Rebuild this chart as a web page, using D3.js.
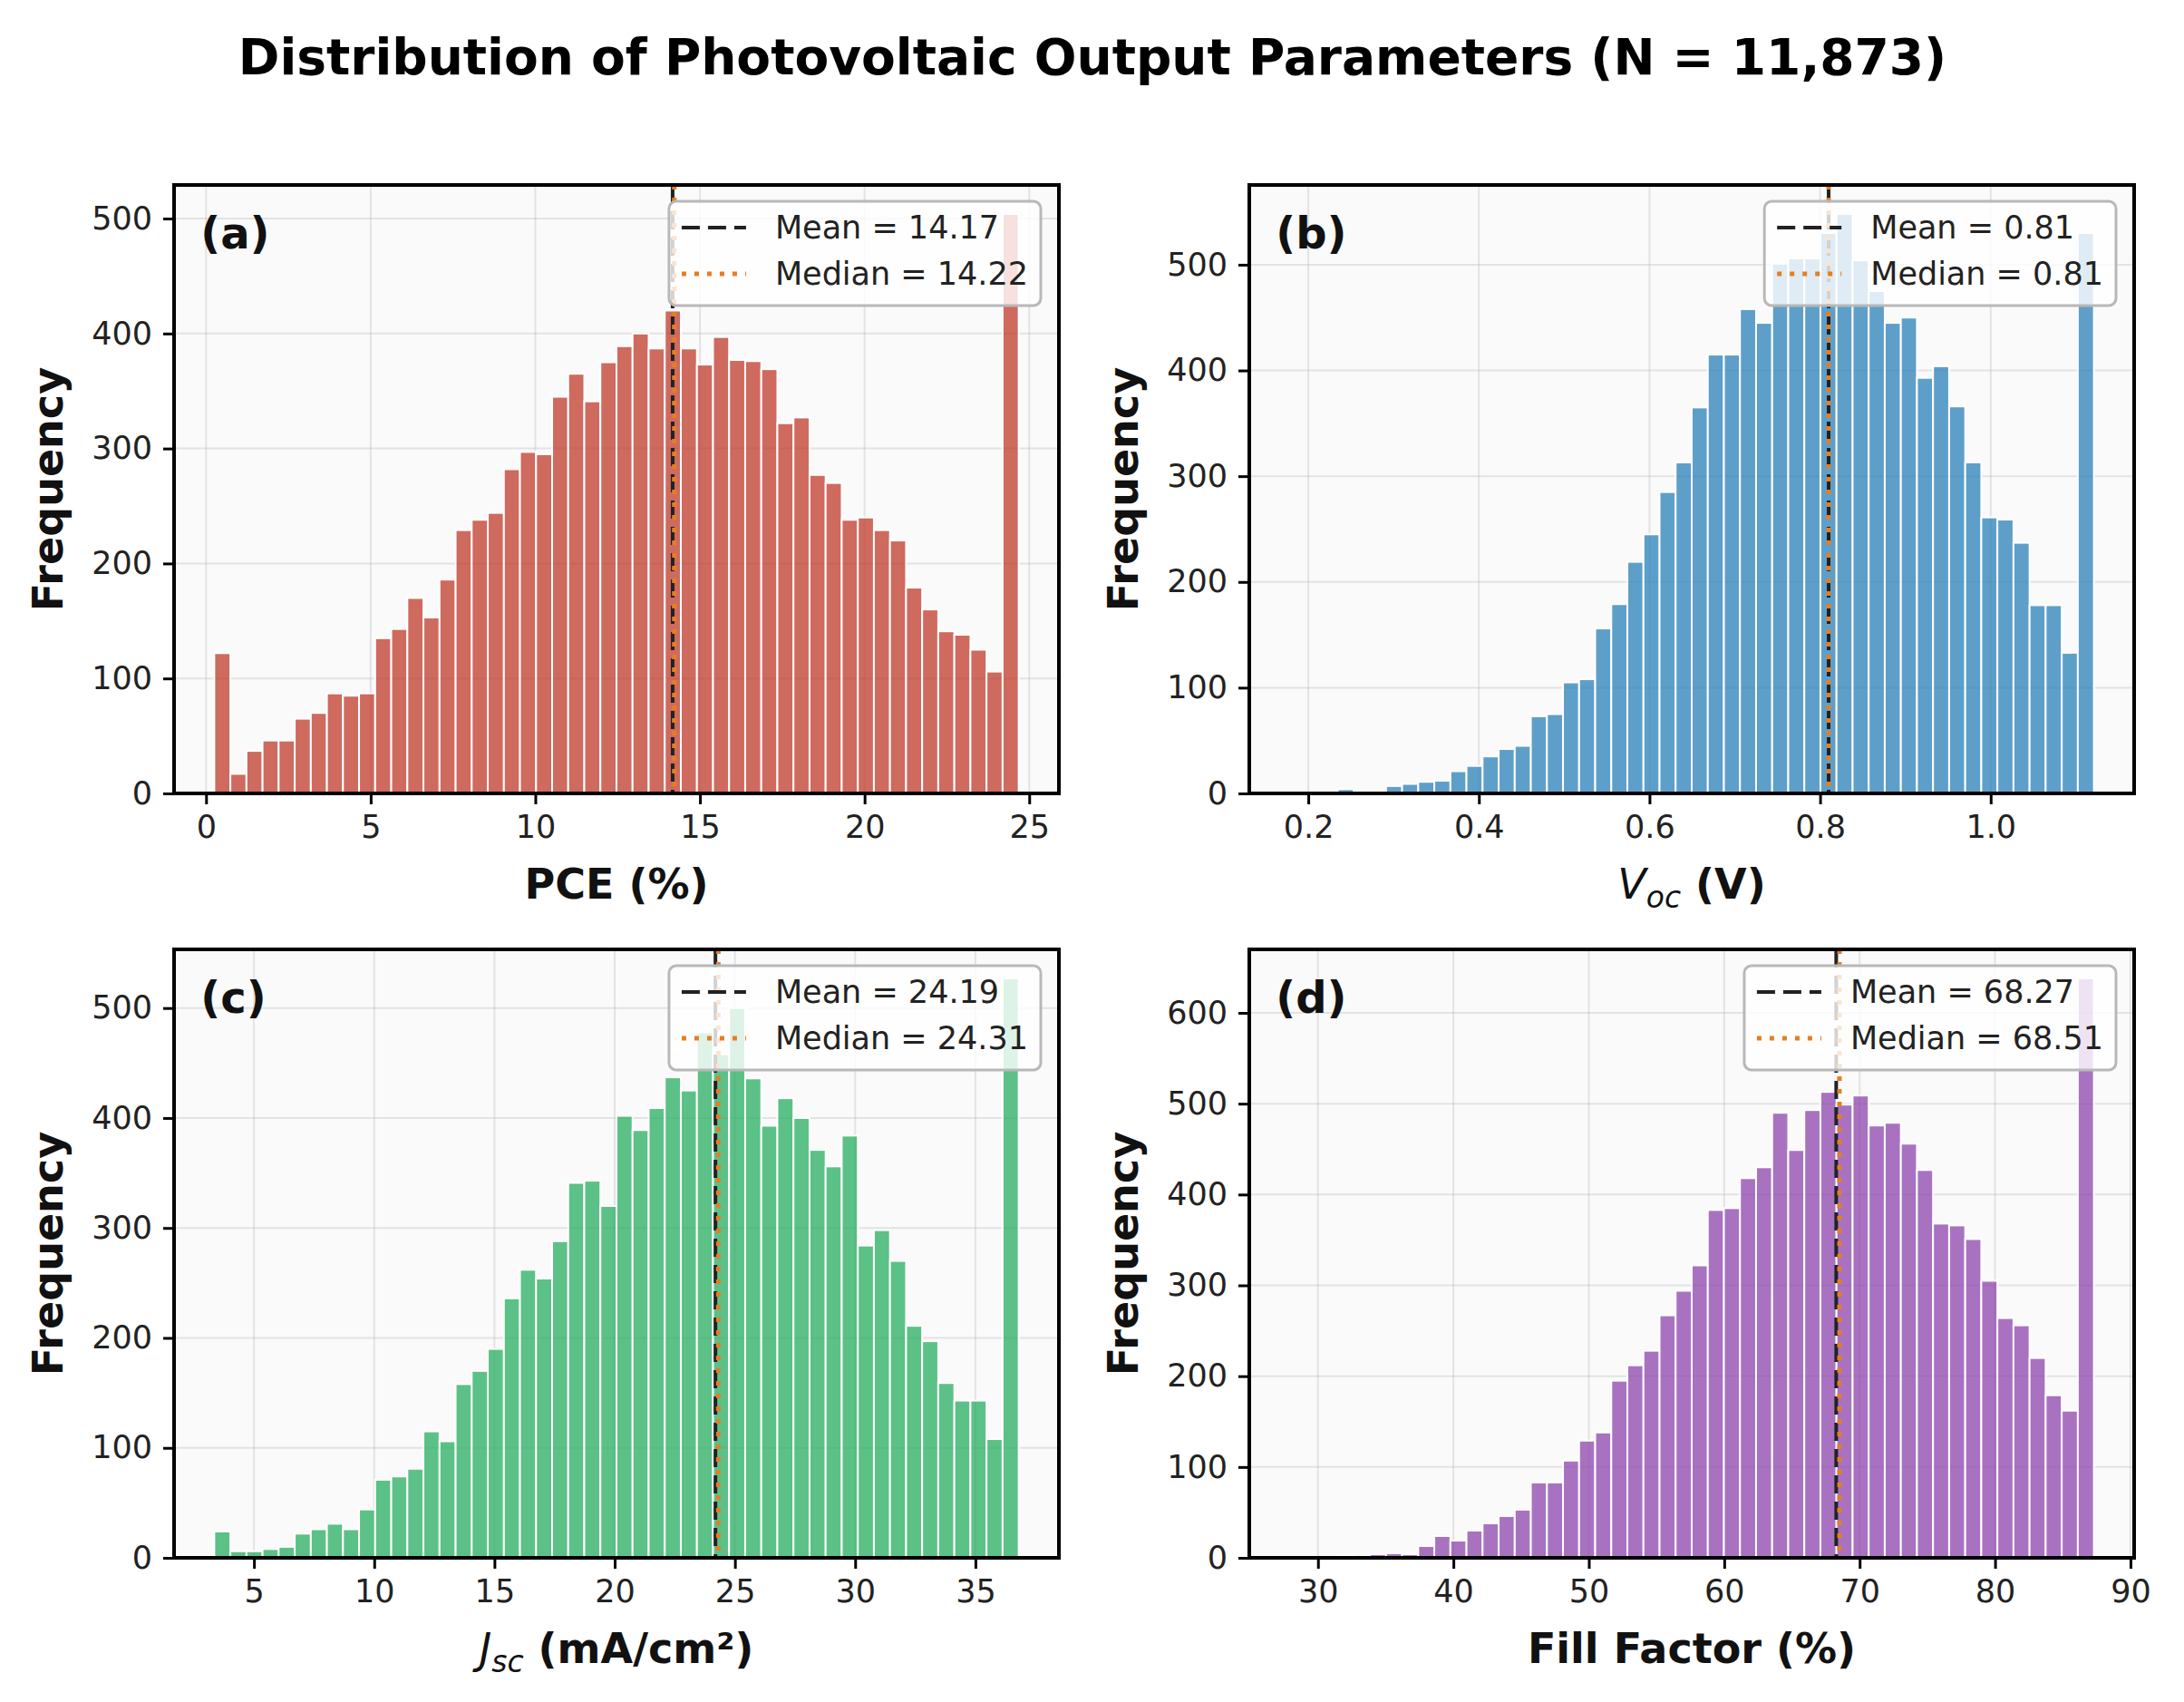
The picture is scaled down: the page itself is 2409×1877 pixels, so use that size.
<!DOCTYPE html>
<html>
<head>
<meta charset="utf-8">
<script src="https://d3js.org/d3.v7.min.js"></script>
<style>
  body { margin: 0; background: #ffffff; }
  text { font-family: "DejaVu Sans", sans-serif; }
</style>
</head>
<body>
<svg id="chart"></svg>
<script>
// ---- data (50 bins per histogram) ----
const pceRange = [0.25, 24.68];
const pceCounts = [122, 17, 37, 46, 46, 65, 70, 87, 85, 87,
  135, 143, 170, 153, 186, 229, 238, 244, 282, 297,
  295, 345, 365, 341, 375, 389, 400, 387, 420, 387,
  373, 397, 377, 376, 369, 322, 327, 277, 270, 238,
  240, 229, 220, 179, 160, 141, 138, 125, 106, 504];

const vocRange = [0.178, 1.121];
const vocCounts = [1, 0, 1, 4, 2, 2, 7, 9, 11, 12,
  21, 26, 35, 42, 45, 73, 75, 105, 108, 156,
  179, 219, 245, 285, 313, 365, 415, 415, 458, 445,
  501, 506, 506, 530, 548, 504, 475, 445, 450, 393,
  404, 366, 313, 261, 259, 237, 178, 178, 133, 530];

const jscRange = [3.35, 36.8];
const jscCounts = [24, 6, 6, 8, 10, 22, 26, 31, 26, 44,
  71, 74, 81, 115, 106, 158, 170, 190, 236, 262,
  254, 288, 341, 343, 320, 402, 389, 409, 437, 425,
  478, 458, 500, 436, 393, 418, 400, 371, 356, 384,
  284, 298, 270, 211, 197, 159, 143, 143, 108, 527];

const ffRange = [27.9, 87.3];
const ffCounts = [1, 0, 1, 3, 1, 4, 5, 4, 13, 24,
  19, 30, 38, 46, 53, 83, 83, 107, 129, 138,
  195, 212, 228, 267, 294, 322, 383, 385, 418, 430,
  490, 449, 493, 513, 499, 509, 476, 479, 456, 427,
  368, 366, 351, 305, 264, 256, 220, 179, 162, 638];

const panelLetters = ["(a)", "(b)", "(c)", "(d)"];
const meanValues = [14.17, 0.81, 24.19, 68.27];
const medianValues = [14.22, 0.81, 24.31, 68.51];

const pceTicks = [0, 5, 10, 15, 20, 25];
const vocTicks = [0.2, 0.4, 0.6, 0.8, 1.0];
const jscTicks = [5, 10, 15, 20, 25, 30, 35];
const ffTicks = [30, 40, 50, 60, 70, 80, 90];
const freqTicks = [0, 100, 200, 300, 400, 500];
const freqTicksFF = [0, 100, 200, 300, 400, 500, 600];

const barColors = ["#c0392b", "#2980b9", "#27ae60", "#8e44ad"];
const titleText = "Distribution of Photovoltaic Output Parameters (N = 11,873)";

// ---- layout ----
const width = 2409;
const height = 1877;
const colLeft = [192, 1378];
const rowTop = [204, 1047];
const axW = 976;
const axH = 671;

const svg = d3.select("#chart")
  .attr("width", width)
  .attr("height", height);

svg.append("rect").attr("width", width).attr("height", height).attr("fill", "#ffffff");

svg.append("text")
  .attr("x", 1205)
  .attr("y", 82)
  .attr("text-anchor", "middle")
  .attr("font-size", 55)
  .attr("font-weight", "bold")
  .attr("fill", "#000")
  .text(titleText);

const panels = [
  { counts: pceCounts, range: pceRange, xTicks: pceTicks, yTicks: freqTicks, fmt: d3.format("d"), xlabel: [{ t: "PCE (%)", b: true }] },
  { counts: vocCounts, range: vocRange, xTicks: vocTicks, yTicks: freqTicks, fmt: d3.format(".1f"), xlabel: [{ t: "V", i: true }, { t: "oc", i: true, sub: true }, { t: " (V)", b: true }] },
  { counts: jscCounts, range: jscRange, xTicks: jscTicks, yTicks: freqTicks, fmt: d3.format("d"), xlabel: [{ t: "J", i: true }, { t: "sc", i: true, sub: true }, { t: " (mA/cm²)", b: true }] },
  { counts: ffCounts, range: ffRange, xTicks: ffTicks, yTicks: freqTicksFF, fmt: d3.format("d"), xlabel: [{ t: "Fill Factor (%)", b: true }] }
];

panels.forEach((p, k) => {
  const left = colLeft[k % 2];
  const top = rowTop[Math.floor(k / 2)];
  const g = svg.append("g").attr("transform", `translate(${left},${top})`);

  const lo = p.range[0], hi = p.range[1];
  const binW = (hi - lo) / p.counts.length;
  const pad = (hi - lo) * 0.05;

  const x = d3.scaleLinear().domain([lo - pad, hi + pad]).range([0, axW]);
  const y = d3.scaleLinear().domain([0, d3.max(p.counts) * 1.05]).range([axH, 0]);

  // background + grid
  g.append("rect").attr("width", axW).attr("height", axH).attr("fill", "#fafafa");

  g.append("g").selectAll("line").data(p.xTicks).enter().append("line")
    .attr("x1", d => x(d)).attr("x2", d => x(d))
    .attr("y1", 0).attr("y2", axH)
    .attr("stroke", "#b0b0b0").attr("stroke-opacity", 0.3).attr("stroke-width", 2);

  g.append("g").selectAll("line").data(p.yTicks).enter().append("line")
    .attr("x1", 0).attr("x2", axW)
    .attr("y1", d => y(d)).attr("y2", d => y(d))
    .attr("stroke", "#b0b0b0").attr("stroke-opacity", 0.3).attr("stroke-width", 2);

  // bars
  g.append("g").selectAll("rect").data(p.counts).enter().append("rect")
    .attr("x", (d, i) => x(lo + i * binW))
    .attr("width", (d, i) => x(lo + (i + 1) * binW) - x(lo + i * binW))
    .attr("y", d => y(d))
    .attr("height", d => axH - y(d))
    .attr("fill", barColors[k])
    .attr("fill-opacity", 0.75)
    .attr("stroke", "#ffffff")
    .attr("stroke-width", 2);

  // mean / median lines
  g.append("line")
    .attr("x1", x(meanValues[k])).attr("x2", x(meanValues[k]))
    .attr("y1", 0).attr("y2", axH)
    .attr("stroke", "#222").attr("stroke-width", 4)
    .attr("stroke-dasharray", "20,9");
  g.append("line")
    .attr("x1", x(medianValues[k])).attr("x2", x(medianValues[k]))
    .attr("y1", 0).attr("y2", axH)
    .attr("stroke", "#e67e22").attr("stroke-width", 5)
    .attr("stroke-dasharray", "5,9");

  // axes
  const xAxis = d3.axisBottom(x).tickValues(p.xTicks).tickFormat(p.fmt).tickSize(12).tickPadding(12);
  const yAxis = d3.axisLeft(y).tickValues(p.yTicks).tickFormat(d3.format("d")).tickSize(12).tickPadding(12);

  const gx = g.append("g").attr("transform", `translate(0,${axH})`).call(xAxis);
  const gy = g.append("g").call(yAxis);
  [gx, gy].forEach(a => {
    a.select(".domain").remove();
    a.selectAll("line").attr("stroke", "#000").attr("stroke-width", 3);
    a.selectAll("text").attr("font-size", 35).attr("fill", "#222")
      .style("font-family", "DejaVu Sans");
  });

  // frame
  g.append("rect").attr("width", axW).attr("height", axH)
    .attr("fill", "none").attr("stroke", "#000").attr("stroke-width", 4);

  // legend
  const lg = g.append("g");
  const box = lg.append("rect")
    .attr("fill", "#ffffff").attr("fill-opacity", 0.8)
    .attr("stroke", "#b8b8b8").attr("stroke-width", 3)
    .attr("rx", 8);
  const t1 = lg.append("text").attr("x", 117).attr("y", 41)
    .attr("font-size", 35).attr("fill", "#222")
    .text(`Mean = ${meanValues[k].toFixed(2)}`);
  const t2 = lg.append("text").attr("x", 117).attr("y", 92)
    .attr("font-size", 35).attr("fill", "#222")
    .text(`Median = ${medianValues[k].toFixed(2)}`);
  lg.append("line").attr("x1", 14).attr("x2", 85).attr("y1", 29).attr("y2", 29)
    .attr("stroke", "#222").attr("stroke-width", 4).attr("stroke-dasharray", "20,9");
  lg.append("line").attr("x1", 14).attr("x2", 85).attr("y1", 80).attr("y2", 80)
    .attr("stroke", "#e67e22").attr("stroke-width", 5).attr("stroke-dasharray", "5,9");
  const lw = 117 + Math.max(t1.node().getComputedTextLength(), t2.node().getComputedTextLength()) + 14;
  box.attr("width", lw).attr("height", 115);
  lg.attr("transform", `translate(${axW - 20 - lw},18)`);

  // panel letter
  g.append("text")
    .attr("x", axW * 0.03).attr("y", axH * 0.05 + 36)
    .attr("font-size", 48).attr("font-weight", "bold").attr("fill", "#111")
    .text(panelLetters[k]);

  // x label
  const xl = g.append("text")
    .attr("x", axW / 2).attr("y", axH + 116)
    .attr("text-anchor", "middle").attr("font-size", 46).attr("fill", "#111");
  let shifted = false;
  p.xlabel.forEach(part => {
    const ts = xl.append("tspan").text(part.t);
    if (part.b) ts.attr("font-weight", "bold");
    if (part.i) ts.attr("font-style", "italic");
    if (part.sub) { ts.attr("font-size", 33).attr("dy", 10); shifted = true; }
    else if (shifted) { ts.attr("dy", -10); shifted = false; }
  });

  // y label
  g.append("text")
    .attr("transform", `translate(-123,${axH / 2}) rotate(-90)`)
    .attr("text-anchor", "middle")
    .attr("font-size", 46).attr("font-weight", "bold").attr("fill", "#111")
    .text("Frequency");
});
</script>
</body>
</html>
